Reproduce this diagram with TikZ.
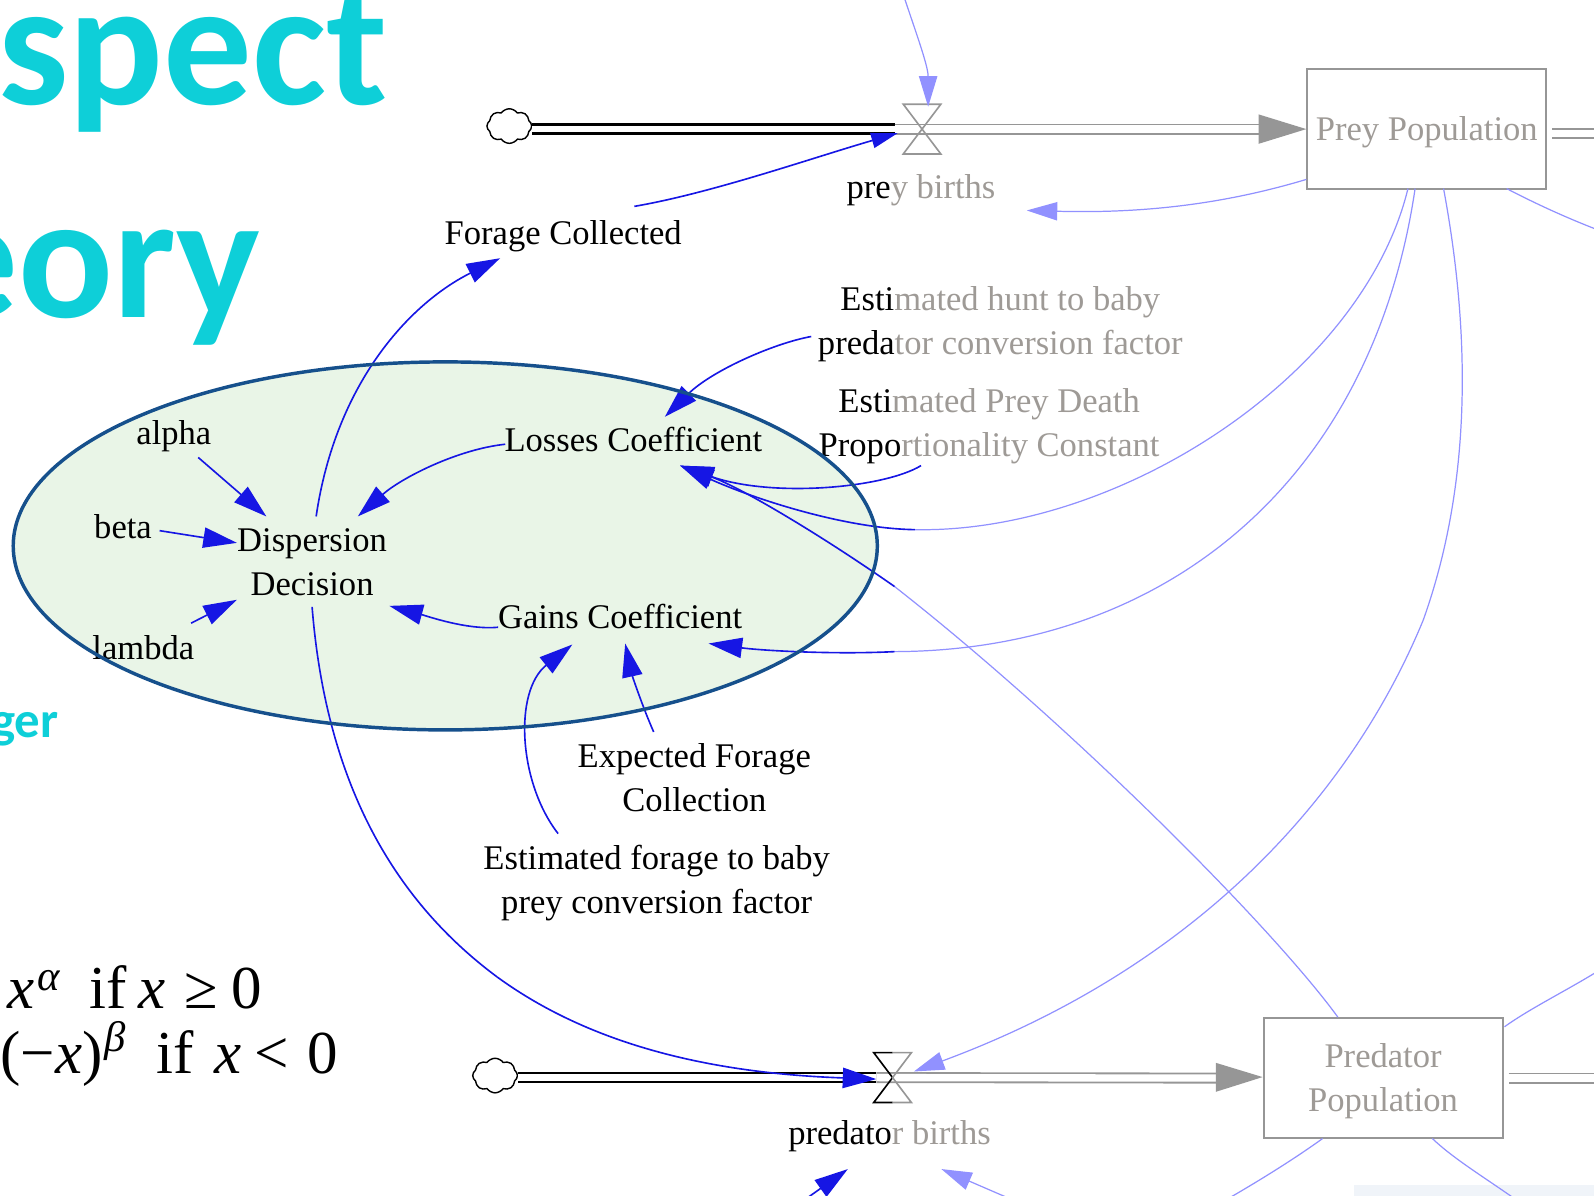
\documentclass[tikz,border=0pt]{standalone}
\usepackage{fontspec}
\usetikzlibrary{arrows.meta,shapes.symbols,calc}
\newfontfamily\diagfont{Liberation Serif}
\newfontfamily\headfont{Carlito}
\definecolor{dkblue}{RGB}{22,22,228}
\definecolor{ltblue}{RGB}{145,145,255}
\definecolor{flowgray}{RGB}{150,150,150}
\definecolor{txtgray}{RGB}{158,154,150}
\definecolor{headcyan}{RGB}{14,207,216}
\definecolor{ovalfill}{RGB}{233,245,231}
\definecolor{ovaledge}{RGB}{22,80,140}
\definecolor{cornerfill}{RGB}{240,244,249}
\tikzset{
  lbl/.style={font=\diagfont\fontsize{17}{21.5}\selectfont, align=center, inner sep=0pt},
  stockbox/.style={draw=flowgray, line width=1pt, minimum width=117.5pt, minimum height=59pt, inner sep=0pt},
  stockname/.style={lbl, text=txtgray},
  linkdark/.style={draw=dkblue, line width=0.8pt, -{Triangle[length=16.5pt,width=10pt]}},
  linkdarksmall/.style={draw=dkblue, line width=0.8pt, -{Triangle[length=13pt,width=7.5pt]}},
  linklight/.style={draw=ltblue, line width=0.6pt, -{Triangle[length=15pt,width=9pt]}},
  darkplain/.style={draw=dkblue, line width=0.8pt},
  lightplain/.style={draw=ltblue, line width=0.6pt},
  pipeblack/.style={draw=black, line width=1.3pt, double=white, double distance=3.2pt},
  pipegray/.style={draw=flowgray, line width=0.9pt, double=white, double distance=3.6pt},
  valveline/.style={line width=0.8pt, line join=miter},
  headtext/.style={text=headcyan, inner sep=0pt, anchor=base west},
  casetext/.style={anchor=base west, inner sep=0pt, font=\diagfont\fontsize{30}{36}\selectfont},
  sink/.style={cloud, draw=black, line width=0.7pt, cloud puffs=8, cloud puff arc=110,
    aspect=1.3, minimum width=22pt, minimum height=17pt, inner sep=0pt},
}
\newcommand{\supsym}[2]{\raisebox{#1}{\fontsize{21}{21}\selectfont\textit{#2}}}
\begin{document}
\begin{tikzpicture}[x=0.5pt,y=-0.5pt]
\useasboundingbox (0,0) rectangle (1568,1176);
\clip (0,0) rectangle (1568,1176);

% slide heading fragments
\node[headtext, font=\headfont\bfseries\fontsize{87}{87}\selectfont] (headA) at (-2,103) {spect};
\node[headtext, font=\headfont\bfseries\fontsize{87}{87}\selectfont] (headB) at (-70,312) {eory};
\node[headtext, anchor=base east, font=\headfont\bfseries\fontsize{25}{25}\selectfont] (headC) at (58,725) {ger};

% value function cases
\node[casetext] (caseA) at (7,992) {\textit{x}\hspace{1.5pt}\supsym{9pt}{α}\hspace{14pt}if\hspace{6pt}\textit{x}\hspace{9pt}≥\hspace{7pt}0};
\node[casetext] (caseB) at (0,1056) {(−\textit{x})\hspace{1pt}\supsym{11pt}{β}\hspace{15pt}if\hspace{10.5pt}\textit{x}\hspace{6pt}<\hspace{9.5pt}0};

% highlighted decision sector
\fill[ovalfill] (438,537) ellipse [x radius=212.5pt, y radius=90.5pt];

% faint panel in the corner
\fill[cornerfill] (1332,1166) rectangle (1568,1176);

% stocks
\node[stockbox] (prey) at (1403.5,126.5) {};
\node[stockname] (preyname) at ($(prey)+(0,4)$) {Prey Population};
\node[stockbox] (pred) at (1360.5,1060.5) {};
\node[stockname] (predname) at ($(pred)+(0,3)$) {Predator\\Population};

% flow sources
\node[sink] (srcprey) at (501,124) {};
\node[sink] (srcpred) at (487,1058) {};

% valves
\coordinate (pv) at (907,127);
\coordinate (pdv) at (878,1060);

% prey inflow pipe
\draw[pipeblack] (srcprey.east |- pv) -- ($(pv)+(-27,0)$);
\draw[pipegray] ($(pv)+(-27,0)$) -- ($(prey.west)+(-44,0.5)$);
\fill[flowgray] ($(prey.west)+(-47,-14)$) -- ($(prey.west)+(0,0.5)$) -- ($(prey.west)+(-47,15)$) -- cycle;
\draw[pipegray] ($(prey.east)+(5,4.5)$) -- ++(60,0);
\draw[valveline, flowgray] ($(pv)+(-18.5,-24.5)$) -- ($(pv)+(18.5,-24.5)$) -- ($(pv)+(-18.5,24.5)$) -- ($(pv)+(18.5,24.5)$) -- cycle;

% predator inflow pipe
\draw[pipeblack] (srcpred.east |- pdv) -- ($(pdv)+(-16,0)$);
\draw[pipegray] ($(pdv)+(-16,0)$) -- ($(pred.west)+(-42,0)$);
\fill[flowgray] ($(pred.west)+(-46,-15)$) -- ($(pred.west)+(0,-1)$) -- ($(pred.west)+(-46,13.5)$) -- cycle;
\draw[pipegray] ($(pred.east)+(5,0)$) -- ++(100,0);
\draw[valveline, black] ($(pdv)+(0,-24.5)$) -- ($(pdv)+(-18.5,-24.5)$) -- (pdv) -- ($(pdv)+(-18.5,24.5)$) -- ($(pdv)+(0,24.5)$);
\draw[valveline, flowgray] ($(pdv)+(0,-24.5)$) -- ($(pdv)+(18.5,-24.5)$) -- (pdv) -- ($(pdv)+(18.5,24.5)$) -- ($(pdv)+(0,24.5)$);

% variables
\node[lbl] (fc) at (554,232) {Forage Collected};
\node[lbl] (pb) at (906,187) {pre\textcolor{txtgray}{y births}};
\node[lbl] (ehunt) at (984,319) {Esti\textcolor{txtgray}{mated hunt to baby}\\preda\textcolor{txtgray}{tor conversion factor}};
\node[lbl] (eprey) at (973,419) {Esti\textcolor{txtgray}{mated Prey Death}\\Propo\textcolor{txtgray}{rtionality Constant}};
\node[lbl] (loss) at (623,432) {Losses Coefficient};
\node[lbl] (alpha) at (171,429) {alpha};
\node[lbl] (beta) at (121,518) {beta};
\node[lbl] (disp) at (307,553) {Dispersion\\Decision};
\node[lbl] (lambda) at (141,637) {lambda};
\node[lbl] (gains) at (610,606) {Gains Coefficient};
\node[lbl] (efc) at (683,765) {Expected Forage\\Collection};
\node[lbl] (eftb) at (646,869) {Estimated forage to baby\\prey conversion factor};
\node[lbl] (predb) at (875,1118) {predato\textcolor{txtgray}{r births}};

% free ends of links that leave the view
\coordinate (topin) at (889,-4);
\coordinate (edgeA) at (1574,227);
\coordinate (edgeB) at (1574,954);
\coordinate (edgeC) at (1203,1182);
\coordinate (edgeD) at (1494,1182);
\coordinate (edgeE) at (789,1182);
\coordinate (edgeF) at (1000,1182);
% colour change points on long links
\coordinate (pl) at (900,521);
\coordinate (pg) at (880,641);
\coordinate (pp) at (1400,610);
\coordinate (pr) at (880,577);
\coordinate (dp) at (489,961);

% links into Dispersion Decision
\draw[linkdark] ($(alpha)+(24,21)$) -- ($(disp)+(-45,-45)$);
\draw[linkdark] ($(beta)+(36,4)$) -- ($(disp)+(-74,-19)$);
\draw[linkdark] ($(lambda)+(47,-24)$) -- ($(disp)+(-74,37)$);
\draw[linkdark] ($(loss)+(-126,5)$) .. controls (450,442) and (395,470) .. ($(disp)+(45,-45)$);
\draw[linkdark] ($(gains)+(-120,11)$) .. controls (460,620) and (420,606) .. ($(disp)+(76,43)$);

% links out of Dispersion Decision
\draw[linkdark] ($(disp)+(4,-45)$) .. controls (330,378) and (402,299) .. ($(fc)+(-62,22)$);
\draw[darkplain] ($(disp)+(0,44)$) .. controls (320,760) and (380,880) .. (dp);
\draw[linkdark] (dp) .. controls (570,1020) and (680,1055) .. ($(pdv)+(-16,1.5)$);

% Forage Collected to prey births
\draw[linkdarksmall] ($(fc)+(70,-29)$) .. controls (700,190) and (800,155) .. ($(pv)+(-24,4)$);

% links into Losses Coefficient
\draw[linkdark] ($(ehunt)+(-186,12)$) .. controls (760,338) and (700,365) .. ($(loss)+(31,-22)$);
\draw[linkdark] ($(eprey)+(-67,39)$) .. controls (870,480) and (760,490) .. ($(loss)+(46,26)$);
\draw[lightplain] ($(prey)+(-18.5,59)$) .. controls (1340,370) and (1100,525) .. (pl);
\draw[linkdark] (pl) .. controls (830,520) and (740,490) .. ($(loss)+(46,26)$);
\draw[lightplain] ($(pred)+(-44.5,-60)$) .. controls (1250,910) and (1050,710) .. (pr);
\draw[linkdark] (pr) .. controls (810,528) and (730,480) .. ($(loss)+(46,26)$);

% links into Gains Coefficient
\draw[lightplain] ($(prey)+(-11.5,59)$) .. controls (1350,470) and (1150,640) .. (pg);
\draw[linkdark] (pg) .. controls (820,644) and (750,640) .. ($(gains)+(87,27)$);
\draw[linkdark] ($(eftb)+(-97,-49)$) .. controls (510,770) and (505,680) .. ($(gains)+(-47,28)$);
\draw[linkdark] ($(efc)+(-40,-45)$) .. controls (632,695) and (622,665) .. ($(gains)+(5,27)$);

% remaining links of the stock and flow structure
\draw[linklight] (topin) .. controls (902,35) and (913,65) .. ($(pv)+(6,-22)$);
\draw[linklight] ($(prey)+(-118.5,50)$) .. controls (1200,202) and (1120,210) .. ($(pb)+(104,20)$);
\draw[lightplain] ($(prey)+(16.5,59)$) .. controls (1445,320) and (1450,470) .. (pp);
\draw[linklight] (pp) .. controls (1330,780) and (1180,950) .. ($(pdv)+(21,-6)$);
\draw[lightplain] ($(prey)+(78.5,59)$) .. controls (1510,200) and (1540,214) .. (edgeA);
\draw[lightplain] (edgeB) .. controls (1540,975) and (1505,992) .. ($(pred)+(119.5,-50.5)$);
\draw[lightplain] ($(pred)+(-59.5,59.5)$) .. controls (1280,1135) and (1250,1155) .. (edgeC);
\draw[lightplain] ($(pred)+(48.5,59.5)$) .. controls (1430,1140) and (1460,1158) .. (edgeD);
\draw[linkdark] (edgeE) -- ($(predb)+(-41,32)$);
\draw[linklight] (edgeF) -- ($(predb)+(51,32)$);

% outline of the highlighted sector
\draw[ovaledge, line width=1.7pt] (438,537) ellipse [x radius=212.5pt, y radius=90.5pt];
\end{tikzpicture}
\end{document}
